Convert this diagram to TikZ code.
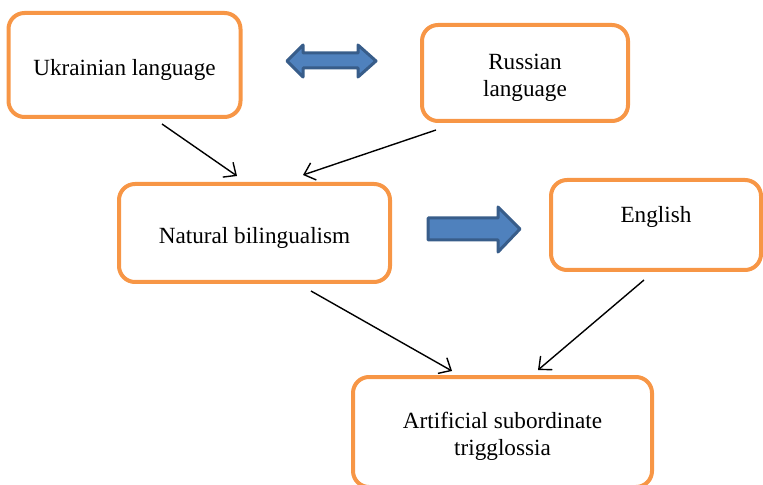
\documentclass[tikz,border=0pt]{standalone}
\usepackage{fontspec}
\setmainfont{Liberation Serif}
\usetikzlibrary{arrows.meta}
\definecolor{boxorange}{HTML}{F79646}
\definecolor{arrowblue}{HTML}{4F81BD}
\definecolor{arrowline}{HTML}{385D8A}
\newcommand\boxlift{\rule{0pt}{13pt}}

\begin{document}
\begin{tikzpicture}[
		x=0.5pt, y=-0.5pt,
		box/.style={
			draw=boxorange,
			line width=2pt,
			rounded corners=8pt,
			align=center,
			font=\fontsize{11.6}{13.5}\selectfont
		},
		link/.style={
			->,
			line width=0.7pt
		},
		fat/.style={
			fill=arrowblue,
			draw=arrowline,
			line width=1.5pt,
			line join=round
		},
		>={Straight Barb[length=5pt,width=9pt]}
		]
		\clip (0,0) rectangle (763,485);
		\node[box, minimum width=116pt, minimum height=52pt] (ukr) at (124.5,65) {\boxlift Ukrainian language};
		\node[box, minimum width=103pt, minimum height=48pt] (rus) at (525,73) {\boxlift Russian\\language};
		\node[box, minimum width=135.5pt, minimum height=49pt] (nat) at (254.5,233) {\boxlift Natural bilingualism};
		\node[box, minimum width=105pt, minimum height=45pt, text depth=15.5pt] (eng) at (656,225) {\boxlift English};
		\node[box, minimum width=149.5pt, minimum height=55pt] (art) at (502.5,432) {\boxlift Artificial subordinate\\trigglossia};
		% block arrows
		\draw[fat] (287,61) -- (303,45) -- (303,53) -- (358,53) -- (358,45) -- (376,61)
			-- (358,77) -- (358,68) -- (303,68) -- (303,77) -- cycle;
		\draw[fat] (428,218) -- (498,218) -- (498,207) -- (520,229) -- (498,252) -- (498,240)
			-- (428,240) -- cycle;
		% connectors
		\draw[link] ([xshift=18.75pt, yshift=-2.5pt]ukr.south) -- ([xshift=-8.75pt, yshift=3pt]nat.north);
		\draw[link] ([xshift=-44.5pt, yshift=-3.5pt]rus.south) -- ([xshift=24.25pt, yshift=3.5pt]nat.north);
		\draw[link] ([xshift=28.25pt, yshift=-3.5pt]nat.south) -- ([xshift=-25.25pt, yshift=2pt]art.north);
		\draw[link] ([xshift=-6pt, yshift=-4pt]eng.south) -- ([xshift=17.75pt, yshift=2.5pt]art.north);
\end{tikzpicture}
\end{document}
